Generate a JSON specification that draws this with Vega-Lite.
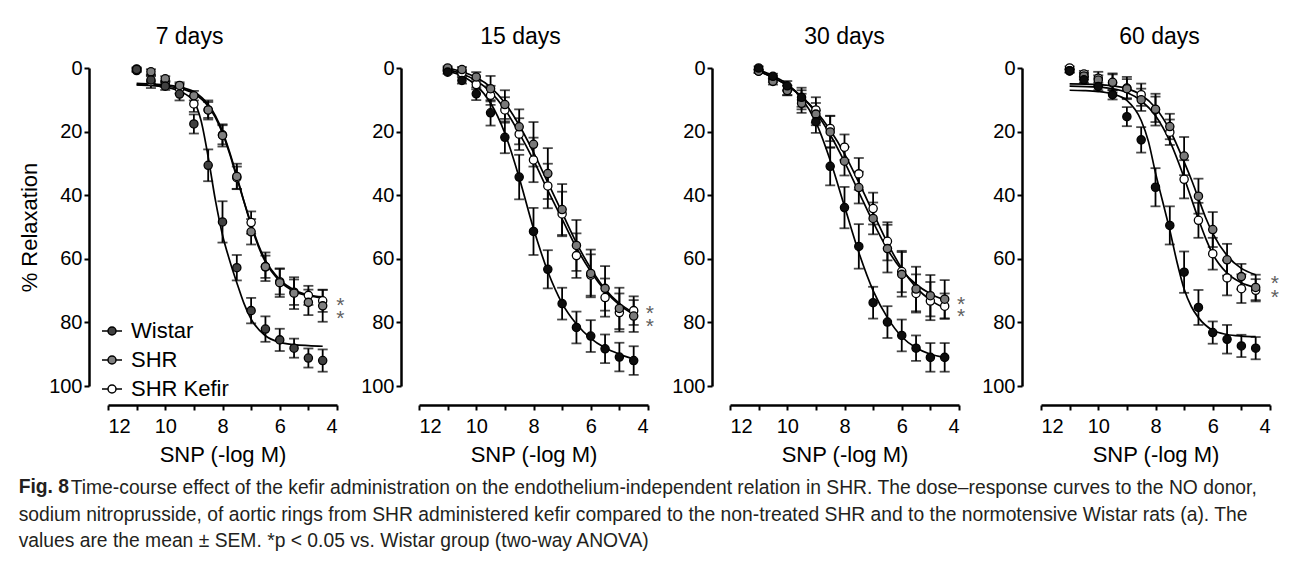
{
"$schema": "https://vega.github.io/schema/vega-lite/v6.json",
"padding": {"left": 18, "top": 26, "right": 5, "bottom": 5},
"background": "white",
"config": {
  "font": "Liberation Sans",
  "view": {"stroke": null},
  "axis": {"domainColor": "black", "domainWidth": 2.5, "tickColor": "black", "tickWidth": 2, "tickSize": 5, "labelFont": "Liberation Sans", "labelFontSize": 20, "labelColor": "black", "titleFont": "Liberation Sans", "titleFontSize": 22, "titleFontWeight": "normal", "titleColor": "black", "grid": false, "labelPadding": 2},
  "title": {"font": "Liberation Sans", "fontSize": 23, "fontWeight": "normal", "color": "black"},
  "legend": {"padding": 0}
},
"datasets": {
"pts": [
{"panel":"7 days","group":"SHR Kefir","x":11,"y":0.8,"sem":0.5},{"panel":"7 days","group":"SHR Kefir","x":10.5,"y":4.3,"sem":2},{"panel":"7 days","group":"SHR Kefir","x":10,"y":5,"sem":1},{"panel":"7 days","group":"SHR Kefir","x":9.5,"y":6.5,"sem":1.5},{"panel":"7 days","group":"SHR Kefir","x":9,"y":11.3,"sem":2.5},{"panel":"7 days","group":"SHR Kefir","x":8.5,"y":13.2,"sem":2.5},{"panel":"7 days","group":"SHR Kefir","x":8,"y":21,"sem":3},{"panel":"7 days","group":"SHR Kefir","x":7.5,"y":34.5,"sem":3.5},{"panel":"7 days","group":"SHR Kefir","x":7,"y":48.6,"sem":3.5},{"panel":"7 days","group":"SHR Kefir","x":6.5,"y":62.5,"sem":3.5},{"panel":"7 days","group":"SHR Kefir","x":6,"y":67.2,"sem":4},{"panel":"7 days","group":"SHR Kefir","x":5.5,"y":70.5,"sem":4},{"panel":"7 days","group":"SHR Kefir","x":5,"y":71.5,"sem":3},{"panel":"7 days","group":"SHR Kefir","x":4.5,"y":73.2,"sem":3.5},
{"panel":"7 days","group":"SHR","x":11,"y":0.3,"sem":0.5},{"panel":"7 days","group":"SHR","x":10.5,"y":1.2,"sem":0.8},{"panel":"7 days","group":"SHR","x":10,"y":3.4,"sem":0.8},{"panel":"7 days","group":"SHR","x":9.5,"y":5.5,"sem":1},{"panel":"7 days","group":"SHR","x":9,"y":8.7,"sem":1.5},{"panel":"7 days","group":"SHR","x":8.5,"y":13.2,"sem":3},{"panel":"7 days","group":"SHR","x":8,"y":21.2,"sem":3.5},{"panel":"7 days","group":"SHR","x":7.5,"y":34.1,"sem":4},{"panel":"7 days","group":"SHR","x":7,"y":51.5,"sem":4},{"panel":"7 days","group":"SHR","x":6.5,"y":62.5,"sem":4.5},{"panel":"7 days","group":"SHR","x":6,"y":67.5,"sem":4.5},{"panel":"7 days","group":"SHR","x":5.5,"y":70.8,"sem":5},{"panel":"7 days","group":"SHR","x":5,"y":73.7,"sem":4},{"panel":"7 days","group":"SHR","x":4.5,"y":74.8,"sem":5},
{"panel":"7 days","group":"Wistar","x":11,"y":0.5,"sem":0.5},{"panel":"7 days","group":"Wistar","x":10.5,"y":3.8,"sem":1.2},{"panel":"7 days","group":"Wistar","x":10,"y":5.7,"sem":1.2},{"panel":"7 days","group":"Wistar","x":9.5,"y":8.2,"sem":2},{"panel":"7 days","group":"Wistar","x":9,"y":17.6,"sem":3},{"panel":"7 days","group":"Wistar","x":8.5,"y":30.6,"sem":5},{"panel":"7 days","group":"Wistar","x":8,"y":48.4,"sem":6.5},{"panel":"7 days","group":"Wistar","x":7.5,"y":62.8,"sem":4},{"panel":"7 days","group":"Wistar","x":7,"y":76.3,"sem":4},{"panel":"7 days","group":"Wistar","x":6.5,"y":82.1,"sem":4},{"panel":"7 days","group":"Wistar","x":6,"y":85.5,"sem":3.5},{"panel":"7 days","group":"Wistar","x":5.5,"y":88.1,"sem":3},{"panel":"7 days","group":"Wistar","x":5,"y":91.2,"sem":3},{"panel":"7 days","group":"Wistar","x":4.5,"y":92,"sem":3.5},
{"panel":"15 days","group":"SHR Kefir","x":11,"y":0.5,"sem":0.5},{"panel":"15 days","group":"SHR Kefir","x":10.5,"y":1.6,"sem":0.8},{"panel":"15 days","group":"SHR Kefir","x":10,"y":5.2,"sem":1.5},{"panel":"15 days","group":"SHR Kefir","x":9.5,"y":8.6,"sem":3},{"panel":"15 days","group":"SHR Kefir","x":9,"y":13.2,"sem":4},{"panel":"15 days","group":"SHR Kefir","x":8.5,"y":20.8,"sem":5},{"panel":"15 days","group":"SHR Kefir","x":8,"y":28.9,"sem":7},{"panel":"15 days","group":"SHR Kefir","x":7.5,"y":37.1,"sem":7},{"panel":"15 days","group":"SHR Kefir","x":7,"y":45.9,"sem":7},{"panel":"15 days","group":"SHR Kefir","x":6.5,"y":59,"sem":7},{"panel":"15 days","group":"SHR Kefir","x":6,"y":65.1,"sem":6.5},{"panel":"15 days","group":"SHR Kefir","x":5.5,"y":72.2,"sem":6},{"panel":"15 days","group":"SHR Kefir","x":5,"y":76.9,"sem":6},{"panel":"15 days","group":"SHR Kefir","x":4.5,"y":76.3,"sem":4.5},
{"panel":"15 days","group":"SHR","x":11,"y":0,"sem":0.5},{"panel":"15 days","group":"SHR","x":10.5,"y":0.5,"sem":0.8},{"panel":"15 days","group":"SHR","x":10,"y":2.8,"sem":1.5},{"panel":"15 days","group":"SHR","x":9.5,"y":6.5,"sem":4},{"panel":"15 days","group":"SHR","x":9,"y":11.5,"sem":4.5},{"panel":"15 days","group":"SHR","x":8.5,"y":18.5,"sem":5.5},{"panel":"15 days","group":"SHR","x":8,"y":24,"sem":7},{"panel":"15 days","group":"SHR","x":7.5,"y":33.2,"sem":8},{"panel":"15 days","group":"SHR","x":7,"y":44.5,"sem":8},{"panel":"15 days","group":"SHR","x":6.5,"y":55.8,"sem":8},{"panel":"15 days","group":"SHR","x":6,"y":64.6,"sem":7.5},{"panel":"15 days","group":"SHR","x":5.5,"y":69.3,"sem":7},{"panel":"15 days","group":"SHR","x":5,"y":75.6,"sem":6.5},{"panel":"15 days","group":"SHR","x":4.5,"y":78,"sem":5},
{"panel":"15 days","group":"Wistar","x":11,"y":1.3,"sem":0.5},{"panel":"15 days","group":"Wistar","x":10.5,"y":3.9,"sem":1},{"panel":"15 days","group":"Wistar","x":10,"y":8.1,"sem":2},{"panel":"15 days","group":"Wistar","x":9.5,"y":14.1,"sem":4},{"panel":"15 days","group":"Wistar","x":9,"y":21.8,"sem":5},{"panel":"15 days","group":"Wistar","x":8.5,"y":34.3,"sem":7},{"panel":"15 days","group":"Wistar","x":8,"y":51.4,"sem":7.4},{"panel":"15 days","group":"Wistar","x":7.5,"y":63.3,"sem":6},{"panel":"15 days","group":"Wistar","x":7,"y":74.1,"sem":5},{"panel":"15 days","group":"Wistar","x":6.5,"y":81.6,"sem":5},{"panel":"15 days","group":"Wistar","x":6,"y":84.3,"sem":5},{"panel":"15 days","group":"Wistar","x":5.5,"y":88.3,"sem":4.5},{"panel":"15 days","group":"Wistar","x":5,"y":90.9,"sem":4.5},{"panel":"15 days","group":"Wistar","x":4.5,"y":92,"sem":4.5},
{"panel":"30 days","group":"SHR Kefir","x":11,"y":1,"sem":0.5},{"panel":"30 days","group":"SHR Kefir","x":10.5,"y":3.5,"sem":1},{"panel":"30 days","group":"SHR Kefir","x":10,"y":7,"sem":1.5},{"panel":"30 days","group":"SHR Kefir","x":9.5,"y":10,"sem":3},{"panel":"30 days","group":"SHR Kefir","x":9,"y":13.2,"sem":4},{"panel":"30 days","group":"SHR Kefir","x":8.5,"y":19,"sem":4},{"panel":"30 days","group":"SHR Kefir","x":8,"y":24.9,"sem":4},{"panel":"30 days","group":"SHR Kefir","x":7.5,"y":33.3,"sem":5},{"panel":"30 days","group":"SHR Kefir","x":7,"y":44.2,"sem":5},{"panel":"30 days","group":"SHR Kefir","x":6.5,"y":54.5,"sem":6},{"panel":"30 days","group":"SHR Kefir","x":6,"y":64,"sem":6.5},{"panel":"30 days","group":"SHR Kefir","x":5.5,"y":70.9,"sem":6},{"panel":"30 days","group":"SHR Kefir","x":5,"y":73.3,"sem":6},{"panel":"30 days","group":"SHR Kefir","x":4.5,"y":74.9,"sem":4},
{"panel":"30 days","group":"SHR","x":11,"y":1,"sem":0.5},{"panel":"30 days","group":"SHR","x":10.5,"y":4.2,"sem":1},{"panel":"30 days","group":"SHR","x":10,"y":7.1,"sem":1.5},{"panel":"30 days","group":"SHR","x":9.5,"y":11.1,"sem":3},{"panel":"30 days","group":"SHR","x":9,"y":14.5,"sem":3.5},{"panel":"30 days","group":"SHR","x":8.5,"y":20.1,"sem":5},{"panel":"30 days","group":"SHR","x":8,"y":29.3,"sem":4.5},{"panel":"30 days","group":"SHR","x":7.5,"y":37.6,"sem":5},{"panel":"30 days","group":"SHR","x":7,"y":47.3,"sem":5},{"panel":"30 days","group":"SHR","x":6.5,"y":56.8,"sem":7.5},{"panel":"30 days","group":"SHR","x":6,"y":64.9,"sem":7},{"panel":"30 days","group":"SHR","x":5.5,"y":69.5,"sem":7},{"panel":"30 days","group":"SHR","x":5,"y":71.6,"sem":6.5},{"panel":"30 days","group":"SHR","x":4.5,"y":72.7,"sem":6},
{"panel":"30 days","group":"Wistar","x":11,"y":0,"sem":0.5},{"panel":"30 days","group":"Wistar","x":10.5,"y":2.6,"sem":0.8},{"panel":"30 days","group":"Wistar","x":10,"y":5.6,"sem":1.5},{"panel":"30 days","group":"Wistar","x":9.5,"y":9.2,"sem":3},{"panel":"30 days","group":"Wistar","x":9,"y":16.9,"sem":3.5},{"panel":"30 days","group":"Wistar","x":8.5,"y":30.9,"sem":6},{"panel":"30 days","group":"Wistar","x":8,"y":43.9,"sem":6.5},{"panel":"30 days","group":"Wistar","x":7.5,"y":56.1,"sem":7},{"panel":"30 days","group":"Wistar","x":7,"y":73.8,"sem":5},{"panel":"30 days","group":"Wistar","x":6.5,"y":79.9,"sem":5},{"panel":"30 days","group":"Wistar","x":6,"y":84.1,"sem":5},{"panel":"30 days","group":"Wistar","x":5.5,"y":88.1,"sem":4},{"panel":"30 days","group":"Wistar","x":5,"y":91,"sem":4.5},{"panel":"30 days","group":"Wistar","x":4.5,"y":91,"sem":4.5},
{"panel":"60 days","group":"SHR Kefir","x":11,"y":0,"sem":0.5},{"panel":"60 days","group":"SHR Kefir","x":10.5,"y":1.9,"sem":1},{"panel":"60 days","group":"SHR Kefir","x":10,"y":3.2,"sem":2},{"panel":"60 days","group":"SHR Kefir","x":9.5,"y":4.7,"sem":3},{"panel":"60 days","group":"SHR Kefir","x":9,"y":6.3,"sem":3.5},{"panel":"60 days","group":"SHR Kefir","x":8.5,"y":8.4,"sem":3.5},{"panel":"60 days","group":"SHR Kefir","x":8,"y":13.1,"sem":5},{"panel":"60 days","group":"SHR Kefir","x":7.5,"y":20.2,"sem":4},{"panel":"60 days","group":"SHR Kefir","x":7,"y":35,"sem":6},{"panel":"60 days","group":"SHR Kefir","x":6.5,"y":47.9,"sem":5.5},{"panel":"60 days","group":"SHR Kefir","x":6,"y":58.4,"sem":5},{"panel":"60 days","group":"SHR Kefir","x":5.5,"y":66,"sem":5.5},{"panel":"60 days","group":"SHR Kefir","x":5,"y":69.4,"sem":4.5},{"panel":"60 days","group":"SHR Kefir","x":4.5,"y":69.9,"sem":3.5},
{"panel":"60 days","group":"SHR","x":11,"y":0.9,"sem":0.5},{"panel":"60 days","group":"SHR","x":10.5,"y":2.5,"sem":1},{"panel":"60 days","group":"SHR","x":10,"y":3.8,"sem":1.5},{"panel":"60 days","group":"SHR","x":9.5,"y":4.5,"sem":2.5},{"panel":"60 days","group":"SHR","x":9,"y":6.5,"sem":3},{"panel":"60 days","group":"SHR","x":8.5,"y":10,"sem":3.5},{"panel":"60 days","group":"SHR","x":8,"y":13,"sem":4},{"panel":"60 days","group":"SHR","x":7.5,"y":18.4,"sem":4},{"panel":"60 days","group":"SHR","x":7,"y":27.7,"sem":6},{"panel":"60 days","group":"SHR","x":6.5,"y":40.3,"sem":5.5},{"panel":"60 days","group":"SHR","x":6,"y":50.8,"sem":5.5},{"panel":"60 days","group":"SHR","x":5.5,"y":60.3,"sem":5},{"panel":"60 days","group":"SHR","x":5,"y":65.6,"sem":4},{"panel":"60 days","group":"SHR","x":4.5,"y":69,"sem":4},
{"panel":"60 days","group":"Wistar","x":11,"y":0.9,"sem":0.5},{"panel":"60 days","group":"Wistar","x":10.5,"y":3.7,"sem":1},{"panel":"60 days","group":"Wistar","x":10,"y":5.8,"sem":1.2},{"panel":"60 days","group":"Wistar","x":9.5,"y":8.4,"sem":1.5},{"panel":"60 days","group":"Wistar","x":9,"y":15.3,"sem":3},{"panel":"60 days","group":"Wistar","x":8.5,"y":22.6,"sem":4},{"panel":"60 days","group":"Wistar","x":8,"y":37.5,"sem":6},{"panel":"60 days","group":"Wistar","x":7.5,"y":49.5,"sem":6},{"panel":"60 days","group":"Wistar","x":7,"y":64.2,"sem":6.5},{"panel":"60 days","group":"Wistar","x":6.5,"y":75.3,"sem":5.5},{"panel":"60 days","group":"Wistar","x":6,"y":83.2,"sem":3.5},{"panel":"60 days","group":"Wistar","x":5.5,"y":85.3,"sem":4.5},{"panel":"60 days","group":"Wistar","x":5,"y":87.4,"sem":3.5},{"panel":"60 days","group":"Wistar","x":4.5,"y":88.1,"sem":3.5}
],
"fit": [
{"panel":"7 days","group":"Wistar","x":11,"y":5.3},{"panel":"7 days","group":"Wistar","x":10.5,"y":5.5},{"panel":"7 days","group":"Wistar","x":10,"y":6},{"panel":"7 days","group":"Wistar","x":9.5,"y":7.3},{"panel":"7 days","group":"Wistar","x":9,"y":10.5},{"panel":"7 days","group":"Wistar","x":8.75,"y":16.5},{"panel":"7 days","group":"Wistar","x":8.5,"y":28},{"panel":"7 days","group":"Wistar","x":8.25,"y":41.5},{"panel":"7 days","group":"Wistar","x":8,"y":52.5},{"panel":"7 days","group":"Wistar","x":7.75,"y":60.5},{"panel":"7 days","group":"Wistar","x":7.5,"y":67.5},{"panel":"7 days","group":"Wistar","x":7.25,"y":74},{"panel":"7 days","group":"Wistar","x":7,"y":79},{"panel":"7 days","group":"Wistar","x":6.5,"y":84.2},{"panel":"7 days","group":"Wistar","x":6,"y":86.3},{"panel":"7 days","group":"Wistar","x":5.5,"y":87},{"panel":"7 days","group":"Wistar","x":5,"y":87.3},{"panel":"7 days","group":"Wistar","x":4.5,"y":87.5},
{"panel":"7 days","group":"SHR","x":11,"y":4.8},{"panel":"7 days","group":"SHR","x":10.5,"y":5},{"panel":"7 days","group":"SHR","x":10,"y":5.3},{"panel":"7 days","group":"SHR","x":9.5,"y":6},{"panel":"7 days","group":"SHR","x":9,"y":7.5},{"panel":"7 days","group":"SHR","x":8.5,"y":11.5},{"panel":"7 days","group":"SHR","x":8.25,"y":15},{"panel":"7 days","group":"SHR","x":8,"y":20},{"panel":"7 days","group":"SHR","x":7.75,"y":26.5},{"panel":"7 days","group":"SHR","x":7.5,"y":34},{"panel":"7 days","group":"SHR","x":7.25,"y":42},{"panel":"7 days","group":"SHR","x":7,"y":49.5},{"panel":"7 days","group":"SHR","x":6.75,"y":56},{"panel":"7 days","group":"SHR","x":6.5,"y":61},{"panel":"7 days","group":"SHR","x":6,"y":67},{"panel":"7 days","group":"SHR","x":5.5,"y":70.2},{"panel":"7 days","group":"SHR","x":5,"y":71.6},{"panel":"7 days","group":"SHR","x":4.5,"y":72.3},
{"panel":"7 days","group":"SHR Kefir","x":11,"y":5.2},{"panel":"7 days","group":"SHR Kefir","x":10.5,"y":5.4},{"panel":"7 days","group":"SHR Kefir","x":10,"y":5.7},{"panel":"7 days","group":"SHR Kefir","x":9.5,"y":6.4},{"panel":"7 days","group":"SHR Kefir","x":9,"y":8},{"panel":"7 days","group":"SHR Kefir","x":8.5,"y":12},{"panel":"7 days","group":"SHR Kefir","x":8.25,"y":15.5},{"panel":"7 days","group":"SHR Kefir","x":8,"y":20.5},{"panel":"7 days","group":"SHR Kefir","x":7.75,"y":27},{"panel":"7 days","group":"SHR Kefir","x":7.5,"y":34.5},{"panel":"7 days","group":"SHR Kefir","x":7.25,"y":42},{"panel":"7 days","group":"SHR Kefir","x":7,"y":49},{"panel":"7 days","group":"SHR Kefir","x":6.75,"y":55.5},{"panel":"7 days","group":"SHR Kefir","x":6.5,"y":60.5},{"panel":"7 days","group":"SHR Kefir","x":6,"y":66.5},{"panel":"7 days","group":"SHR Kefir","x":5.5,"y":69.8},{"panel":"7 days","group":"SHR Kefir","x":5,"y":71.3},{"panel":"7 days","group":"SHR Kefir","x":4.5,"y":72},
{"panel":"15 days","group":"Wistar","x":11,"y":1},{"panel":"15 days","group":"Wistar","x":10.5,"y":2.5},{"panel":"15 days","group":"Wistar","x":10,"y":5.5},{"panel":"15 days","group":"Wistar","x":9.5,"y":11},{"panel":"15 days","group":"Wistar","x":9,"y":20.5},{"panel":"15 days","group":"Wistar","x":8.5,"y":34.5},{"panel":"15 days","group":"Wistar","x":8,"y":50.5},{"panel":"15 days","group":"Wistar","x":7.5,"y":64},{"panel":"15 days","group":"Wistar","x":7,"y":74},{"panel":"15 days","group":"Wistar","x":6.5,"y":80.5},{"panel":"15 days","group":"Wistar","x":6,"y":85},{"panel":"15 days","group":"Wistar","x":5.5,"y":88},{"panel":"15 days","group":"Wistar","x":5,"y":90},{"panel":"15 days","group":"Wistar","x":4.5,"y":91.5},
{"panel":"15 days","group":"SHR","x":11,"y":0},{"panel":"15 days","group":"SHR","x":10.5,"y":1.2},{"panel":"15 days","group":"SHR","x":10,"y":3},{"panel":"15 days","group":"SHR","x":9.5,"y":6},{"panel":"15 days","group":"SHR","x":9,"y":11},{"panel":"15 days","group":"SHR","x":8.5,"y":18},{"panel":"15 days","group":"SHR","x":8,"y":26.5},{"panel":"15 days","group":"SHR","x":7.5,"y":36},{"panel":"15 days","group":"SHR","x":7,"y":45.5},{"panel":"15 days","group":"SHR","x":6.5,"y":55},{"panel":"15 days","group":"SHR","x":6,"y":63},{"panel":"15 days","group":"SHR","x":5.5,"y":69.5},{"panel":"15 days","group":"SHR","x":5,"y":74},{"panel":"15 days","group":"SHR","x":4.5,"y":77},
{"panel":"15 days","group":"SHR Kefir","x":11,"y":0.5},{"panel":"15 days","group":"SHR Kefir","x":10.5,"y":1.8},{"panel":"15 days","group":"SHR Kefir","x":10,"y":4},{"panel":"15 days","group":"SHR Kefir","x":9.5,"y":7.5},{"panel":"15 days","group":"SHR Kefir","x":9,"y":13},{"panel":"15 days","group":"SHR Kefir","x":8.5,"y":20.5},{"panel":"15 days","group":"SHR Kefir","x":8,"y":29},{"panel":"15 days","group":"SHR Kefir","x":7.5,"y":38.5},{"panel":"15 days","group":"SHR Kefir","x":7,"y":47.5},{"panel":"15 days","group":"SHR Kefir","x":6.5,"y":56.5},{"panel":"15 days","group":"SHR Kefir","x":6,"y":64},{"panel":"15 days","group":"SHR Kefir","x":5.5,"y":70},{"panel":"15 days","group":"SHR Kefir","x":5,"y":74.5},{"panel":"15 days","group":"SHR Kefir","x":4.5,"y":77.5},
{"panel":"30 days","group":"Wistar","x":11,"y":0.5},{"panel":"30 days","group":"Wistar","x":10.5,"y":2.5},{"panel":"30 days","group":"Wistar","x":10,"y":5},{"panel":"30 days","group":"Wistar","x":9.5,"y":9.5},{"panel":"30 days","group":"Wistar","x":9,"y":17},{"panel":"30 days","group":"Wistar","x":8.5,"y":29},{"panel":"30 days","group":"Wistar","x":8,"y":43.5},{"panel":"30 days","group":"Wistar","x":7.5,"y":58},{"panel":"30 days","group":"Wistar","x":7,"y":70},{"panel":"30 days","group":"Wistar","x":6.5,"y":78.5},{"panel":"30 days","group":"Wistar","x":6,"y":84.5},{"panel":"30 days","group":"Wistar","x":5.5,"y":88},{"panel":"30 days","group":"Wistar","x":5,"y":90},{"panel":"30 days","group":"Wistar","x":4.5,"y":91},
{"panel":"30 days","group":"SHR","x":11,"y":1},{"panel":"30 days","group":"SHR","x":10.5,"y":3},{"panel":"30 days","group":"SHR","x":10,"y":5.5},{"panel":"30 days","group":"SHR","x":9.5,"y":9},{"panel":"30 days","group":"SHR","x":9,"y":14},{"panel":"30 days","group":"SHR","x":8.5,"y":21},{"panel":"30 days","group":"SHR","x":8,"y":29.5},{"panel":"30 days","group":"SHR","x":7.5,"y":39},{"panel":"30 days","group":"SHR","x":7,"y":48.5},{"panel":"30 days","group":"SHR","x":6.5,"y":57},{"panel":"30 days","group":"SHR","x":6,"y":63.5},{"panel":"30 days","group":"SHR","x":5.5,"y":68},{"panel":"30 days","group":"SHR","x":5,"y":71},{"panel":"30 days","group":"SHR","x":4.5,"y":73},
{"panel":"30 days","group":"SHR Kefir","x":11,"y":1},{"panel":"30 days","group":"SHR Kefir","x":10.5,"y":3},{"panel":"30 days","group":"SHR Kefir","x":10,"y":5.5},{"panel":"30 days","group":"SHR Kefir","x":9.5,"y":9},{"panel":"30 days","group":"SHR Kefir","x":9,"y":13.5},{"panel":"30 days","group":"SHR Kefir","x":8.5,"y":19.5},{"panel":"30 days","group":"SHR Kefir","x":8,"y":27},{"panel":"30 days","group":"SHR Kefir","x":7.5,"y":36},{"panel":"30 days","group":"SHR Kefir","x":7,"y":45.5},{"panel":"30 days","group":"SHR Kefir","x":6.5,"y":55},{"panel":"30 days","group":"SHR Kefir","x":6,"y":63},{"panel":"30 days","group":"SHR Kefir","x":5.5,"y":69},{"panel":"30 days","group":"SHR Kefir","x":5,"y":73},{"panel":"30 days","group":"SHR Kefir","x":4.5,"y":75.5},
{"panel":"60 days","group":"Wistar","x":11,"y":7},{"panel":"60 days","group":"Wistar","x":10.5,"y":7.1},{"panel":"60 days","group":"Wistar","x":10,"y":7.4},{"panel":"60 days","group":"Wistar","x":9.5,"y":8.2},{"panel":"60 days","group":"Wistar","x":9,"y":10.2},{"panel":"60 days","group":"Wistar","x":8.5,"y":16.5},{"panel":"60 days","group":"Wistar","x":8.25,"y":23},{"panel":"60 days","group":"Wistar","x":8,"y":33},{"panel":"60 days","group":"Wistar","x":7.75,"y":42},{"panel":"60 days","group":"Wistar","x":7.5,"y":51},{"panel":"60 days","group":"Wistar","x":7.25,"y":61},{"panel":"60 days","group":"Wistar","x":7,"y":69.5},{"panel":"60 days","group":"Wistar","x":6.75,"y":75},{"panel":"60 days","group":"Wistar","x":6.5,"y":78.5},{"panel":"60 days","group":"Wistar","x":6,"y":82.5},{"panel":"60 days","group":"Wistar","x":5.5,"y":83.8},{"panel":"60 days","group":"Wistar","x":5,"y":84.3},{"panel":"60 days","group":"Wistar","x":4.5,"y":84.5},
{"panel":"60 days","group":"SHR","x":11,"y":5},{"panel":"60 days","group":"SHR","x":10,"y":5.2},{"panel":"60 days","group":"SHR","x":9.5,"y":5.6},{"panel":"60 days","group":"SHR","x":9,"y":6.5},{"panel":"60 days","group":"SHR","x":8.5,"y":8.5},{"panel":"60 days","group":"SHR","x":8,"y":12.5},{"panel":"60 days","group":"SHR","x":7.5,"y":19.5},{"panel":"60 days","group":"SHR","x":7,"y":29.5},{"panel":"60 days","group":"SHR","x":6.75,"y":35},{"panel":"60 days","group":"SHR","x":6.5,"y":41},{"panel":"60 days","group":"SHR","x":6.25,"y":47},{"panel":"60 days","group":"SHR","x":6,"y":52},{"panel":"60 days","group":"SHR","x":5.5,"y":59},{"panel":"60 days","group":"SHR","x":5,"y":63},{"panel":"60 days","group":"SHR","x":4.5,"y":65},
{"panel":"60 days","group":"SHR Kefir","x":11,"y":5.7},{"panel":"60 days","group":"SHR Kefir","x":10,"y":6},{"panel":"60 days","group":"SHR Kefir","x":9.5,"y":6.5},{"panel":"60 days","group":"SHR Kefir","x":9,"y":7.7},{"panel":"60 days","group":"SHR Kefir","x":8.5,"y":10.3},{"panel":"60 days","group":"SHR Kefir","x":8,"y":15},{"panel":"60 days","group":"SHR Kefir","x":7.5,"y":23},{"panel":"60 days","group":"SHR Kefir","x":7,"y":34.5},{"panel":"60 days","group":"SHR Kefir","x":6.75,"y":41},{"panel":"60 days","group":"SHR Kefir","x":6.5,"y":47.5},{"panel":"60 days","group":"SHR Kefir","x":6.25,"y":53.5},{"panel":"60 days","group":"SHR Kefir","x":6,"y":58.5},{"panel":"60 days","group":"SHR Kefir","x":5.5,"y":64.5},{"panel":"60 days","group":"SHR Kefir","x":5,"y":67.5},{"panel":"60 days","group":"SHR Kefir","x":4.5,"y":69}
],
"stars": [
{"panel":"7 days","x":4.03,"y":72.9},{"panel":"7 days","x":4.03,"y":77.1},
{"panel":"15 days","x":4.08,"y":75.6},{"panel":"15 days","x":4.08,"y":79.7},
{"panel":"30 days","x":4.07,"y":72.7},{"panel":"30 days","x":4.07,"y":76.5},
{"panel":"60 days","x":3.97,"y":66},{"panel":"60 days","x":3.97,"y":70.4}
]
},
"title": {"text": "Fig. 8", "orient": "bottom", "anchor": "start", "frame": "bounds", "font": "Liberation Sans", "fontSize": 19.3, "fontWeight": "bold", "color": "#231f20", "offset": -73, "baseline": "top"},
"vconcat": [
{
"bounds": "flush",
"spacing": 82,
"resolve": {"scale": {"fill": "independent"}},
"title": {"text": ["\u200b\u2003\u2003\u2002\u2009Time-course effect of the kefir administration on the endothelium-independent relation in SHR. The dose\u2013response curves to the NO donor,", "sodium nitroprusside, of aortic rings from SHR administered kefir compared to the non-treated SHR and to the normotensive Wistar rats (a). The", "values are the mean \u00b1 SEM. *p < 0.05 vs. Wistar group (two-way ANOVA)"], "orient": "bottom", "anchor": "start", "frame": "bounds", "font": "Liberation Sans", "fontSize": 19.3, "fontWeight": "normal", "color": "#231f20", "lineHeight": 26.5, "offset": 14, "baseline": "top"},
"hconcat": [
{
"width": 229, "height": 318,
"title": {"text": "7 days", "dx": -33, "frame": "group", "offset": 9},
"encoding": {
  "x": {"field": "x", "type": "quantitative", "scale": {"domain": [4, 12], "reverse": true, "nice": false, "zero": false}, "axis": {"title": "SNP (-log M)", "values": [12,11,10,9,8,7,6,5,4], "labelExpr": "datum.value % 2 == 0 ? datum.label : ''", "offset": 19, "labelPadding": 6, "titlePadding": 8}},
  "y": {"field": "y", "type": "quantitative", "scale": {"domain": [0, 100], "reverse": true, "nice": false, "zero": false}, "axis": {"title": "% Relaxation", "values": [0,20,40,60,80,100], "offset": 19, "titlePadding": 7}}
},
"layer": [
  {"data": {"name": "fit"}, "transform": [{"filter": "datum.panel == '7 days'"}], "mark": {"type": "line", "interpolate": "monotone", "color": "black", "strokeWidth": 1.7}, "encoding": {"detail": {"field": "group"}}},
  {"data": {"name": "pts"}, "transform": [{"filter": "datum.panel == '7 days'"}], "mark": {"type": "errorbar", "ticks": true, "size": 10, "thickness": 1.8, "color": "black"}, "encoding": {"yError": {"field": "sem"}, "detail": {"field": "group"}}},
  {"data": {"name": "pts"}, "transform": [{"filter": "datum.panel == '7 days'"}], "mark": {"type": "point", "shape": "circle", "filled": true, "size": 68, "stroke": "black", "strokeWidth": 1.3, "opacity": 1}, "encoding": {"fill": {"field": "group", "type": "nominal", "scale": {"domain": ["Wistar", "SHR", "SHR Kefir"], "range": ["#404040", "#808080", "#ffffff"]}, "legend": {"title": null, "orient": "none", "legendX": -7, "legendY": 252, "labelFontSize": 22, "labelFont": "Liberation Sans", "labelColor": "black", "symbolType": "M-1,0H-0.4M0.4,0H1M0.4,0A0.4,0.4,0,1,1,-0.4,0A0.4,0.4,0,1,1,0.4,0Z", "symbolSize": 400, "symbolStrokeColor": "black", "symbolStrokeWidth": 1.5, "symbolOpacity": 1, "rowPadding": 7, "labelOffset": 8}}}},
  {"data": {"name": "stars"}, "transform": [{"filter": "datum.panel == '7 days'"}], "mark": {"type": "text", "text": "*", "fontSize": 21, "font": "Liberation Sans", "color": "#606060", "baseline": "middle", "align": "left", "dy": 6}}
]
},
{
"width": 229, "height": 318,
"title": {"text": "15 days", "dx": -13, "frame": "group", "offset": 9},
"encoding": {
  "x": {"field": "x", "type": "quantitative", "scale": {"domain": [4, 12], "reverse": true, "nice": false, "zero": false}, "axis": {"title": "SNP (-log M)", "values": [12,11,10,9,8,7,6,5,4], "labelExpr": "datum.value % 2 == 0 ? datum.label : ''", "offset": 19, "labelPadding": 6, "titlePadding": 8}},
  "y": {"field": "y", "type": "quantitative", "scale": {"domain": [0, 100], "reverse": true, "nice": false, "zero": false}, "axis": {"title": null, "values": [0,20,40,60,80,100], "offset": 18}}
},
"layer": [
  {"data": {"name": "fit"}, "transform": [{"filter": "datum.panel == '15 days'"}], "mark": {"type": "line", "interpolate": "monotone", "color": "black", "strokeWidth": 1.7}, "encoding": {"detail": {"field": "group"}}},
  {"data": {"name": "pts"}, "transform": [{"filter": "datum.panel == '15 days'"}], "mark": {"type": "errorbar", "ticks": true, "size": 10, "thickness": 1.8, "color": "black"}, "encoding": {"yError": {"field": "sem"}, "detail": {"field": "group"}}},
  {"data": {"name": "pts"}, "transform": [{"filter": "datum.panel == '15 days'"}], "mark": {"type": "point", "shape": "circle", "filled": true, "size": 68, "stroke": "black", "strokeWidth": 1.3, "opacity": 1}, "encoding": {"fill": {"field": "group", "type": "nominal", "scale": {"domain": ["Wistar", "SHR", "SHR Kefir"], "range": ["#0d0d0d", "#7a7a7a", "#ffffff"]}, "legend": null}}},
  {"data": {"name": "stars"}, "transform": [{"filter": "datum.panel == '15 days'"}], "mark": {"type": "text", "text": "*", "fontSize": 21, "font": "Liberation Sans", "color": "#606060", "baseline": "middle", "align": "left", "dy": 6}}
]
},
{
"width": 229, "height": 318,
"title": {"text": "30 days", "dx": 0, "frame": "group", "offset": 9},
"encoding": {
  "x": {"field": "x", "type": "quantitative", "scale": {"domain": [4, 12], "reverse": true, "nice": false, "zero": false}, "axis": {"title": "SNP (-log M)", "values": [12,11,10,9,8,7,6,5,4], "labelExpr": "datum.value % 2 == 0 ? datum.label : ''", "offset": 19, "labelPadding": 6, "titlePadding": 8}},
  "y": {"field": "y", "type": "quantitative", "scale": {"domain": [0, 100], "reverse": true, "nice": false, "zero": false}, "axis": {"title": null, "values": [0,20,40,60,80,100], "offset": 18}}
},
"layer": [
  {"data": {"name": "fit"}, "transform": [{"filter": "datum.panel == '30 days'"}], "mark": {"type": "line", "interpolate": "monotone", "color": "black", "strokeWidth": 1.7}, "encoding": {"detail": {"field": "group"}}},
  {"data": {"name": "pts"}, "transform": [{"filter": "datum.panel == '30 days'"}], "mark": {"type": "errorbar", "ticks": true, "size": 10, "thickness": 1.8, "color": "black"}, "encoding": {"yError": {"field": "sem"}, "detail": {"field": "group"}}},
  {"data": {"name": "pts"}, "transform": [{"filter": "datum.panel == '30 days'"}], "mark": {"type": "point", "shape": "circle", "filled": true, "size": 68, "stroke": "black", "strokeWidth": 1.3, "opacity": 1}, "encoding": {"fill": {"field": "group", "type": "nominal", "scale": {"domain": ["Wistar", "SHR", "SHR Kefir"], "range": ["#0d0d0d", "#7a7a7a", "#ffffff"]}, "legend": null}}},
  {"data": {"name": "stars"}, "transform": [{"filter": "datum.panel == '30 days'"}], "mark": {"type": "text", "text": "*", "fontSize": 21, "font": "Liberation Sans", "color": "#606060", "baseline": "middle", "align": "left", "dy": 6}}
]
},
{
"width": 229, "height": 318,
"title": {"text": "60 days", "dx": 4, "frame": "group", "offset": 9},
"encoding": {
  "x": {"field": "x", "type": "quantitative", "scale": {"domain": [4, 12], "reverse": true, "nice": false, "zero": false}, "axis": {"title": "SNP (-log M)", "values": [12,11,10,9,8,7,6,5,4], "labelExpr": "datum.value % 2 == 0 ? datum.label : ''", "offset": 19, "labelPadding": 6, "titlePadding": 8}},
  "y": {"field": "y", "type": "quantitative", "scale": {"domain": [0, 100], "reverse": true, "nice": false, "zero": false}, "axis": {"title": null, "values": [0,20,40,60,80,100], "offset": 19}}
},
"layer": [
  {"data": {"name": "fit"}, "transform": [{"filter": "datum.panel == '60 days'"}], "mark": {"type": "line", "interpolate": "monotone", "color": "black", "strokeWidth": 1.7}, "encoding": {"detail": {"field": "group"}}},
  {"data": {"name": "pts"}, "transform": [{"filter": "datum.panel == '60 days'"}], "mark": {"type": "errorbar", "ticks": true, "size": 10, "thickness": 1.8, "color": "black"}, "encoding": {"yError": {"field": "sem"}, "detail": {"field": "group"}}},
  {"data": {"name": "pts"}, "transform": [{"filter": "datum.panel == '60 days'"}], "mark": {"type": "point", "shape": "circle", "filled": true, "size": 68, "stroke": "black", "strokeWidth": 1.3, "opacity": 1}, "encoding": {"fill": {"field": "group", "type": "nominal", "scale": {"domain": ["Wistar", "SHR", "SHR Kefir"], "range": ["#0d0d0d", "#7a7a7a", "#ffffff"]}, "legend": null}}},
  {"data": {"name": "stars"}, "transform": [{"filter": "datum.panel == '60 days'"}], "mark": {"type": "text", "text": "*", "fontSize": 21, "font": "Liberation Sans", "color": "#606060", "baseline": "middle", "align": "left", "dy": 6}}
]
}
]
}
]
}
